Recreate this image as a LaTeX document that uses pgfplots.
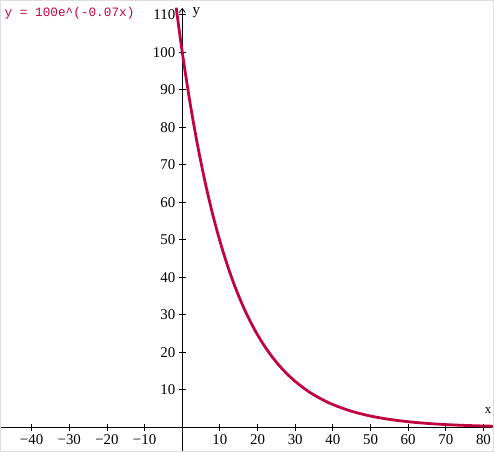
\documentclass[border=0pt]{standalone}
\usepackage{fontspec}
\setmainfont{Liberation Serif}
\newfontfamily\monofont{Liberation Mono}
\usepackage{pgfplots}
\pgfplotsset{compat=1.18}
\usetikzlibrary{arrows.meta}
\definecolor{curve}{HTML}{C0043E}
\newcommand{\tl}[1]{\textrm{\fontsize{15}{17}\selectfont #1}}

\begin{document}
\begin{tikzpicture}
\begin{axis}[
    scale only axis,
    width=494bp, height=452bp,
    xmin=-48.2, xmax=82.6,
    ymin=-6.4, ymax=113.7,
    axis lines=middle,
    axis line style={draw=none},
    tick align=center,
    major tick length=7bp,
    tick style={black, line width=0.8pt},
    xtick={-40,-30,-20,-10,10,20,30,40,50,60,70,80},
    xticklabels={\tl{−40},\tl{−30},\tl{−20},\tl{−10},\tl{10},\tl{20},\tl{30},\tl{40},\tl{50},\tl{60},\tl{70},\tl{80}},
    ytick={10,20,30,40,50,60,70,80,90,100,110},
    yticklabels={\tl{10},\tl{20},\tl{30},\tl{40},\tl{50},\tl{60},\tl{70},\tl{80},\tl{90},\tl{100},\tl{110}},
    clip=false,
]
\coordinate (bl) at (rel axis cs:0,0);
\coordinate (tr) at (rel axis cs:1,1);
\draw[black, line width=0.8pt] (axis cs:-48.2,0) -- (axis cs:82.3,0);
\draw[black, line width=0.8pt, -{Straight Barb[length=4bp,width=6bp]}] (axis cs:0,-6.4) -- (axis cs:0,111.8);
\addplot[curve, line width=2.8pt, smooth] coordinates {
    (-1.6,111.85) (0,100) (2,86.94) (4,75.58) (6,65.70) (8,57.12)
    (10,49.66) (12,43.17) (14,37.53) (16,32.63) (18,28.37) (20,24.66)
    (22,21.44) (24,18.64) (26,16.20) (28,14.09) (30,12.25) (33,9.93)
    (36,8.05) (40,6.08) (45,4.29) (50,3.02) (55,2.13) (60,1.50)
    (65,1.06) (70,0.745) (75,0.525) (80,0.37) (82.6,0.31)
};
\node[anchor=west, font=\fontsize{15}{17}\selectfont] at (axis cs:1.8,110.4) {y};
\node[font=\fontsize{13}{15}\selectfont] at (axis cs:81.2,4.5) {x};
\node[anchor=west, text=curve, font=\monofont\fontsize{12.8}{15}\selectfont, inner sep=0pt] at (axis cs:-47.2,110.4) {y = 100e\textasciicircum(-0.07x)};
\end{axis}
\pgfresetboundingbox
\path (bl) rectangle (tr);
\draw[gray!25, line width=1.5pt] (bl) rectangle (tr);
\end{tikzpicture}
\end{document}
